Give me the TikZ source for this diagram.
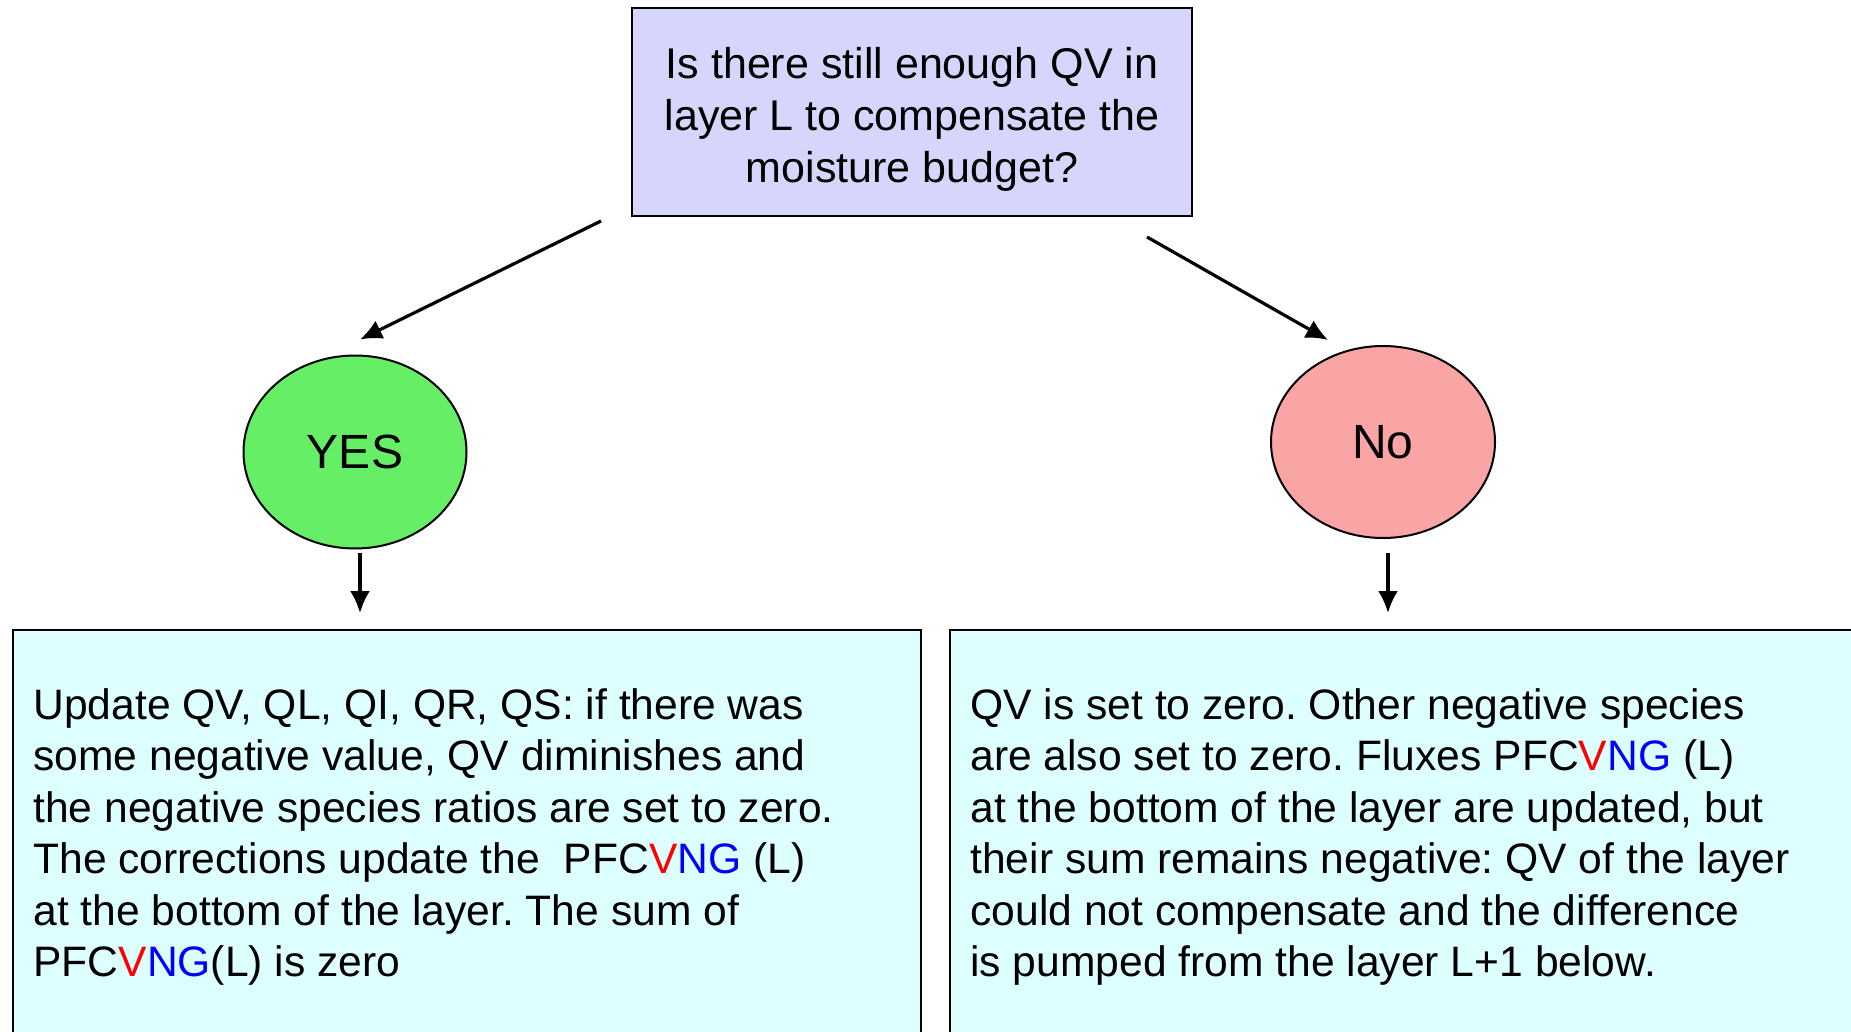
\documentclass[tikz,border=0pt]{standalone}
\usepackage{fontspec}
\setmainfont{Liberation Sans}
\usetikzlibrary{arrows.meta,calc,shapes.geometric}

\definecolor{qfill}{RGB}{214,214,252}
\definecolor{yesfill}{RGB}{102,238,102}
\definecolor{nofill}{RGB}{250,165,165}
\definecolor{boxfill}{RGB}{222,255,255}

\newcommand{\pfcvng}{PFC\textcolor{red}{V}\textcolor{blue}{NG}}
\frenchspacing

\begin{document}
\begin{tikzpicture}[x=0.5pt,y=-0.5pt,
	question/.style={draw, line width=1pt, fill=qfill, minimum width=280pt, minimum height=104pt,
		inner sep=0pt, align=center, font=\fontsize{21.5}{26}\selectfont},
	answer/.style={draw, ellipse, line width=1pt, inner sep=0pt, font=\fontsize{24}{28}\selectfont},
	textbox/.style={draw, line width=1pt, fill=boxfill, anchor=north west, inner sep=0pt},
	txt/.style={anchor=north west, align=left, inner sep=0pt, font=\fontsize{21.3}{25.75}\selectfont},
	arr/.style={-{Latex[length=11pt,width=10pt]}, line width=1.6pt}
]

\useasboundingbox (0,0) rectangle (1851,1032);

\node[question] (q) at (912,112) {};
\node[align=center, font=\fontsize{21.5}{26}\selectfont] (qtxt) at (912,119) {Is there still enough QV in\\ layer L to compensate the\\ moisture budget?};

\node[answer, fill=yesfill, minimum width=111.5pt, minimum height=96.5pt] (yes) at (355,452) {YES};
\node[answer, fill=nofill, minimum width=112pt, minimum height=96pt] (no) at (1383,442) {No};

% result boxes run past the lower edge
\node[textbox, minimum width=454pt, minimum height=220pt] (yesbox) at (12,629) {};
\node[textbox, minimum width=470pt, minimum height=220pt] (nobox) at (949,629) {};

\node[txt] (yestxt) at ($(yesbox.north west)+(21,59)$) {Update QV, QL, QI, QR, QS: if there was\\
	some negative value, QV diminishes and\\
	the negative species ratios are set to zero.\\
	The corrections update the~ \pfcvng{} (L)\\
	at the bottom of the layer. The sum of\\
	\pfcvng(L) is zero};
\node[txt] (notxt) at ($(nobox.north west)+(21,59)$) {QV is set to zero. Other negative species\\
	are also set to zero. Fluxes \pfcvng{} (L)\\
	at the bottom of the layer are updated, but\\
	their sum remains negative: QV of the layer\\
	could not compensate and the difference\\
	is pumped from the layer L+1 below.};

\draw[arr] ($(q.south west)+(-30,4)$) -- ($(yes.north)+(5,-15)$);
\draw[arr] ($(q.south east)+(-46,20)$) -- ($(no.north)+(-55,-5)$);
\draw[arr] ($(yes.south)+(5,3)$) -- ($(yesbox.north west)+(348,-16)$);
\draw[arr] ($(no.south)+(5,14)$) -- ($(nobox.north west)+(439,-16)$);
\end{tikzpicture}
\end{document}
